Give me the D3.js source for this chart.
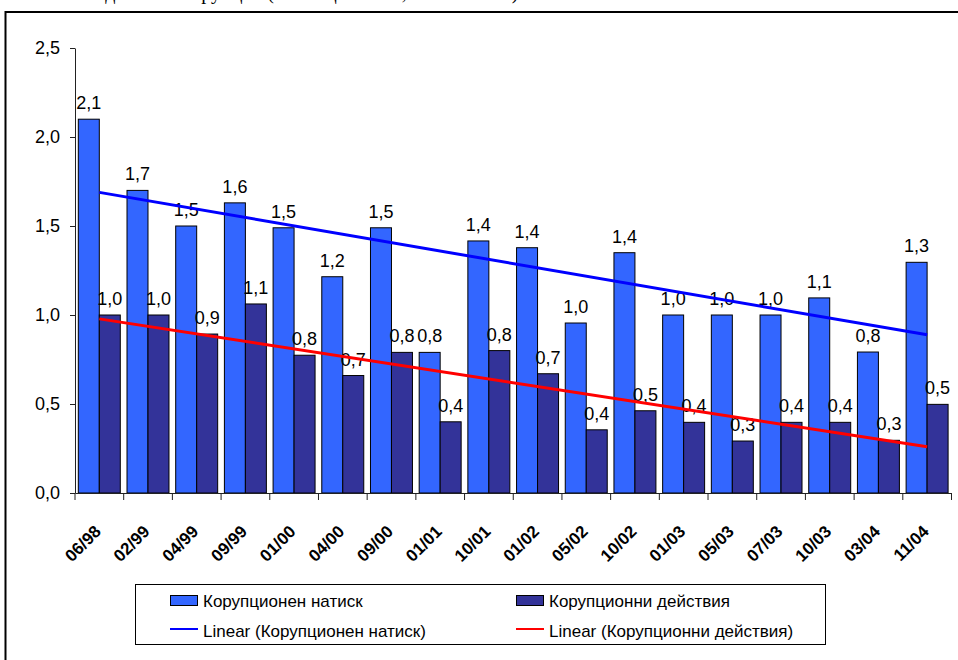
<!DOCTYPE html>
<html>
<head>
<meta charset="utf-8">
<script src="https://cdn.jsdelivr.net/npm/d3@7"></script>
<style>
  body { margin: 0; background: #fff; }
  svg { display: block; font-family: "Liberation Sans", Arial, sans-serif; }
</style>
</head>
<body>
<div id="chart"></div>
<script>
const categories = ['06/98', '02/99', '04/99', '09/99', '01/00', '04/00', '09/00', '01/01', '10/01',
  '01/02', '05/02', '10/02', '01/03', '05/03', '07/03', '10/03', '03/04', '11/04'];
const pressure = [2.1, 1.7, 1.5, 1.63, 1.49, 1.215, 1.49, 0.79, 1.416, 1.378, 0.955, 1.35, 1.0, 1.0, 1.0, 1.096, 0.792, 1.296];
const actions = [1.0, 1.0, 0.893, 1.062, 0.774, 0.66, 0.79, 0.4, 0.8, 0.67, 0.355, 0.462, 0.397, 0.292, 0.397, 0.397, 0.296, 0.498];
const seriesNames = ['Корупционен натиск', 'Корупционни действия'];
const trendNames = ['Linear (Корупционен натиск)', 'Linear (Корупционни действия)'];
const yTicks = [0, 0.5, 1.0, 1.5, 2.0, 2.5];
const topText = 'Индекси на корупция (Коалиция 2000, 1998 – 2004)';

const barColors = ['#3366ff', '#333399'];
const trendColors = ['#0000ff', '#ff0000'];

const width = 958, height = 660;
const fmt = v => d3.format('.1f')(v).replace('.', ',');

const svg = d3.select('#chart').append('svg')
  .attr('width', width)
  .attr('height', height);

// page text above the chart frame, cut by the top edge as in the source
svg.append('text')
  .attr('x', 80)
  .attr('y', -1)
  .attr('fill', '#000')
  .attr('font-family', '"Liberation Serif", "Times New Roman", serif')
  .attr('font-size', 20)
  .text(topText);

svg.append('rect')
  .attr('x', 5.5).attr('y', 12)
  .attr('width', 1000).attr('height', 700)
  .attr('fill', 'none')
  .attr('stroke', '#000')
  .attr('stroke-width', 2);

const x0 = d3.scaleBand()
  .domain(categories)
  .range([75, 951.5]);

const bw = x0.bandwidth();
const x1 = d3.scaleBand()
  .domain([0, 1])
  .range([bw * 0.068, bw * 0.93]);

const y = d3.scaleLinear()
  .domain([0, 2.5])
  .range([493, 48]);

// y axis
const yAxis = svg.append('g')
  .attr('transform', 'translate(75,0)')
  .call(d3.axisLeft(y).tickValues(yTicks).tickSize(5).tickSizeOuter(0).tickFormat(fmt));
yAxis.select('.domain').attr('stroke', '#222');
yAxis.selectAll('.tick line').attr('stroke', '#222');
yAxis.selectAll('.tick text')
  .attr('font-size', 18)
  .attr('font-family', '"Liberation Sans", Arial, sans-serif')
  .attr('fill', '#000')
  .attr('x', -15);

// bars
const rows = categories.map((c, i) => ({ cat: c, vals: [pressure[i], actions[i]] }));

const groups = svg.append('g')
  .selectAll('g')
  .data(rows)
  .enter().append('g')
  .attr('transform', d => `translate(${x0(d.cat)},0)`);

groups.selectAll('rect')
  .data(d => d.vals.map((v, k) => ({ v, k })))
  .enter().append('rect')
  .attr('x', d => x1(d.k))
  .attr('y', d => y(d.v))
  .attr('width', x1.bandwidth())
  .attr('height', d => y(0) - y(d.v))
  .attr('fill', d => barColors[d.k])
  .attr('stroke', '#000')
  .attr('stroke-width', 1);

// x axis
const xAxis = svg.append('g')
  .attr('transform', 'translate(0,493)')
  .call(d3.axisBottom(x0).tickSize(0).tickSizeOuter(0).tickFormat(''));
xAxis.select('.domain').attr('stroke', '#222');

svg.append('g')
  .selectAll('line')
  .data(categories.concat(['end']))
  .enter().append('line')
  .attr('x1', (d, i) => i < categories.length ? x0(d) : x0(categories[categories.length - 1]) + bw)
  .attr('x2', (d, i) => i < categories.length ? x0(d) : x0(categories[categories.length - 1]) + bw)
  .attr('y1', 493)
  .attr('y2', 500)
  .attr('stroke', '#222');

svg.append('g')
  .selectAll('text')
  .data(categories)
  .enter().append('text')
  .attr('transform', d => `translate(${x0(d) + bw / 2 - 6},524) rotate(-45)`)
  .attr('text-anchor', 'end')
  .attr('dy', '0.72em')
  .attr('font-size', 17)
  .attr('font-weight', 'bold')
  .text(d => d);

// trend lines (least squares on category index)
function linearFit(vals) {
  const n = vals.length;
  const xm = (n - 1) / 2;
  const ym = d3.mean(vals);
  let sxy = 0, sxx = 0;
  vals.forEach((v, i) => { sxy += (i - xm) * (v - ym); sxx += (i - xm) * (i - xm); });
  const slope = sxy / sxx;
  return i => ym + slope * (i - xm);
}

[pressure, actions].forEach((vals, k) => {
  const fit = linearFit(vals);
  const pts = [0, vals.length - 1].map(i => [x0(categories[i]) + bw / 2, y(fit(i))]);
  svg.append('path')
    .attr('d', d3.line()(pts))
    .attr('stroke', trendColors[k])
    .attr('stroke-width', 3)
    .attr('fill', 'none');
});

// data labels
groups.selectAll('.lbl')
  .data(d => d.vals.map((v, k) => ({ v, k })))
  .enter().append('text')
  .attr('class', 'lbl')
  .attr('x', d => x1(d.k) + x1.bandwidth() / 2)
  .attr('y', d => y(d.v) - 10)
  .attr('text-anchor', 'middle')
  .attr('font-size', 18)
  .text(d => fmt(d.v));

// legend
const legend = svg.append('g');
legend.append('rect')
  .attr('x', 135.5).attr('y', 584.5)
  .attr('width', 690).attr('height', 60)
  .attr('fill', '#fff')
  .attr('stroke', '#000')
  .attr('stroke-width', 1);

const legX = [170, 516];
seriesNames.forEach((name, k) => {
  legend.append('rect')
    .attr('x', legX[k] + 0.5).attr('y', 595.5)
    .attr('width', 27).attr('height', 10)
    .attr('fill', barColors[k])
    .attr('stroke', '#000');
  legend.append('text')
    .attr('x', legX[k] + 33).attr('y', 607)
    .attr('font-size', 17)
    .text(name);
});
trendNames.forEach((name, k) => {
  legend.append('line')
    .attr('x1', legX[k]).attr('x2', legX[k] + 28)
    .attr('y1', 629).attr('y2', 629)
    .attr('stroke', trendColors[k])
    .attr('stroke-width', 2);
  legend.append('text')
    .attr('x', legX[k] + 33).attr('y', 637)
    .attr('font-size', 17)
    .text(name);
});
</script>
</body>
</html>
